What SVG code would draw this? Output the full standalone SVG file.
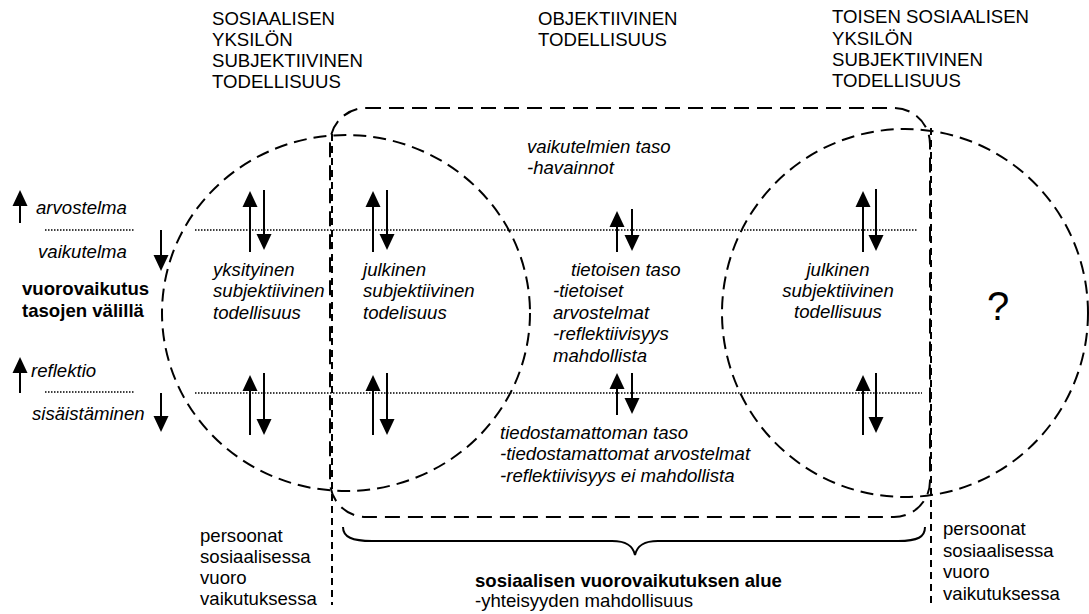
<svg xmlns="http://www.w3.org/2000/svg" width="1089" height="614" viewBox="0 0 1089 614">
<style>
text{font-family:"Liberation Sans",Arial,sans-serif;font-size:18.6px;fill:#000}
.i{font-style:italic}
.b{font-weight:bold}
.c{stroke:#000;stroke-width:2;fill:none;stroke-dasharray:13 7}
.r{stroke:#000;stroke-width:2;fill:none;stroke-dasharray:15 8}
.v{stroke:#000;stroke-width:2;fill:none;stroke-dasharray:7 5}
.d{stroke:#000;stroke-width:1.3;fill:none;stroke-dasharray:1.5 1.5}
.a{stroke:#000;stroke-width:2;fill:none;marker-end:url(#ah)}
.br{stroke:#000;stroke-width:2;fill:none}
</style>
<defs>
<marker id="ah" markerUnits="userSpaceOnUse" markerWidth="17" markerHeight="16" refX="0" refY="7.5" orient="auto" overflow="visible">
<path d="M0,0 L16,7.5 L0,15 z" fill="#000"/>
</marker>
</defs>
<rect width="1089" height="614" fill="#fff"/>

<g id="headers">
<text x="212" y="25">SOSIAALISEN</text>
<text x="212" y="46">YKSILÖN</text>
<text x="212" y="67">SUBJEKTIIVINEN</text>
<text x="212" y="88">TODELLISUUS</text>
<text x="538" y="25">OBJEKTIIVINEN</text>
<text x="538" y="46">TODELLISUUS</text>
<text x="832" y="23">TOISEN SOSIAALISEN</text>
<text x="832" y="45">YKSILÖN</text>
<text x="832" y="66">SUBJEKTIIVINEN</text>
<text x="832" y="87">TODELLISUUS</text>
</g>

<g id="shapes">
<rect id="objective-area" class="r" x="330" y="108" width="600" height="409" rx="36" ry="36"/>
<ellipse id="left-circle" class="c" cx="346" cy="313" rx="184" ry="178"/>
<ellipse id="right-circle" class="c" cx="905" cy="313" rx="183" ry="184"/>
<line class="v" x1="332" y1="134" x2="332" y2="605"/>
<line class="v" x1="931" y1="128" x2="931" y2="605"/>
<line class="d" x1="45" y1="230" x2="135" y2="230"/>
<line class="d" x1="195" y1="230" x2="917" y2="230"/>
<line class="d" x1="45" y1="392" x2="135" y2="392"/>
<line class="d" x1="195" y1="393" x2="922" y2="393"/>
</g>

<g id="legend">
<text class="i" x="36" y="214">arvostelma</text>
<text class="i" x="38" y="258">vaikutelma</text>
<text class="b" x="22" y="295">vuorovaikutus</text>
<text class="b" x="22" y="317">tasojen välillä</text>
<text class="i" x="31" y="377">reflektio</text>
<text class="i" x="32" y="420">sisäistäminen</text>
</g>

<g id="left-private">
<text class="i" x="213" y="276">yksityinen</text>
<text class="i" x="213" y="297">subjektiivinen</text>
<text class="i" x="213" y="319">todellisuus</text>
</g>
<g id="left-public">
<text class="i" x="363" y="276">julkinen</text>
<text class="i" x="363" y="297">subjektiivinen</text>
<text class="i" x="363" y="319">todelisuus</text>
</g>
<g id="impressions-level">
<text class="i" x="527" y="153">vaikutelmien taso</text>
<text class="i" x="527" y="174">-havainnot</text>
</g>
<g id="conscious-level">
<text class="i" x="571" y="276">tietoisen taso</text>
<text class="i" x="553" y="297">-tietoiset</text>
<text class="i" x="553" y="319">arvostelmat</text>
<text class="i" x="553" y="340">-reflektiivisyys</text>
<text class="i" x="553" y="362">mahdollista</text>
</g>
<g id="unconscious-level">
<text class="i" x="500" y="439">tiedostamattoman taso</text>
<text class="i" x="500" y="460">-tiedostamattomat arvostelmat</text>
<text class="i" x="500" y="482">-reflektiivisyys ei mahdollista</text>
</g>
<g id="right-public">
<text class="i" x="838" y="276" text-anchor="middle">julkinen</text>
<text class="i" x="838" y="297" text-anchor="middle">subjektiivinen</text>
<text class="i" x="838" y="318" text-anchor="middle">todellisuus</text>
</g>
<g id="unknown">
<text x="998" y="320" text-anchor="middle" style="font-size:40px">?</text>
</g>
<g id="persons-left">
<text x="200" y="542">persoonat</text>
<text x="200" y="563">sosiaalisessa</text>
<text x="200" y="584">vuoro</text>
<text x="200" y="605">vaikutuksessa</text>
</g>
<g id="persons-right">
<text x="943" y="535">persoonat</text>
<text x="943" y="557">sosiaalisessa</text>
<text x="943" y="578">vuoro</text>
<text x="943" y="600">vaikutuksessa</text>
</g>
<g id="interaction-area">
<path class="br" d="M343,527 C343,537 352,541 372,541 L612,541 C627,541 633,546 635,555 C637,546 643,541 658,541 L898,541 C918,541 925,537 925,527"/>
<text class="b" x="475" y="587">sosiaalisen vuorovaikutuksen alue</text>
<text x="475" y="607">-yhteisyyden mahdollisuus</text>
</g>

<g id="connectors">
<line class="a" x1="20" y1="223" x2="20" y2="206"/>
<line class="a" x1="161" y1="230" x2="161" y2="255"/>
<line class="a" x1="20" y1="393" x2="20" y2="373"/>
<line class="a" x1="161" y1="393" x2="161" y2="416"/>

<line class="a" x1="250" y1="252" x2="250" y2="207"/>
<line class="a" x1="264" y1="190" x2="264" y2="234"/>
<line class="a" x1="373" y1="252" x2="373" y2="207"/>
<line class="a" x1="387" y1="190" x2="387" y2="234"/>
<line class="a" x1="617" y1="252" x2="617" y2="227"/>
<line class="a" x1="632" y1="209" x2="632" y2="235"/>
<line class="a" x1="863" y1="252" x2="863" y2="207"/>
<line class="a" x1="876" y1="189" x2="876" y2="235"/>

<line class="a" x1="250" y1="435" x2="250" y2="391"/>
<line class="a" x1="264" y1="373" x2="264" y2="419"/>
<line class="a" x1="373" y1="435" x2="373" y2="391"/>
<line class="a" x1="387" y1="373" x2="387" y2="419"/>
<line class="a" x1="617" y1="415" x2="617" y2="389"/>
<line class="a" x1="632" y1="373" x2="632" y2="398"/>
<line class="a" x1="863" y1="435" x2="863" y2="391"/>
<line class="a" x1="876" y1="373" x2="876" y2="417"/>
</g>
</svg>
